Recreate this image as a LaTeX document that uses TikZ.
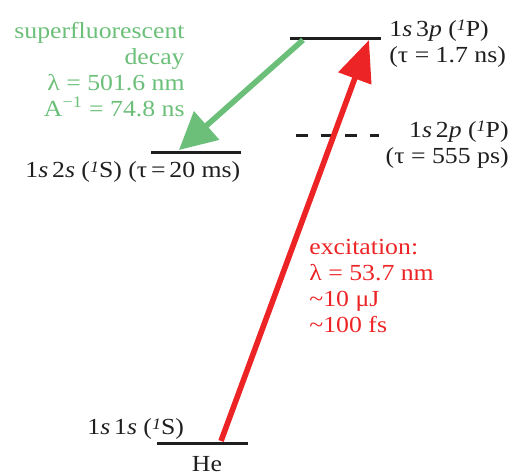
\documentclass[tikz,border=0pt]{standalone}
\usepackage{fontspec}
\setmainfont{Liberation Serif}[FakeStretch=1.12]
\usetikzlibrary{arrows.meta}
\definecolor{Leaf}{rgb}{0.42, 0.75, 0.47}
\definecolor{Signal}{rgb}{0.93, 0.14, 0.15}
\definecolor{Ink}{rgb}{0.12, 0.12, 0.12}
% small italic spin index, top level with the capitals
\newcommand{\upidx}[1]{\raisebox{0.24em}{\fontsize{8}{8}\selectfont\textit{#1}}}

\begin{document}
\begin{tikzpicture}[
  x=0.5pt, y=-0.5pt,
  every node/.style={font=\fontsize{11.5}{13}\selectfont, inner sep=0pt},
  level/.style={Ink, line width=1.5pt},
  pump/.style={Signal, line width=2.8pt, -{Triangle[length=20.5pt, width=17pt]}},
  emission/.style={Leaf, line width=2.8pt, -{Triangle[length=18.5pt, width=18.5pt]}}
]
\useasboundingbox (0,0) rectangle (513,474);

% ============================================================
% Energy levels (pixel grid, y grows downward)
% ============================================================
\coordinate (p3L) at (290,39);  \coordinate (p3R) at (381,39);
\coordinate (p2L) at (296,136); \coordinate (p2R) at (379,136);
\coordinate (s2L) at (151,153); \coordinate (s2R) at (241,153);
\coordinate (s1L) at (157,444); \coordinate (s1R) at (248,444);

\draw[level] (p3L) -- (p3R);
\draw[level, dash pattern=on 6pt off 6.3pt] (p2L) -- (p2R);
\draw[level] (s2L) -- (s2R);
\draw[level] (s1L) -- (s1R);

% Level labels
\node[Ink, anchor=north west, align=left] (p3lab) at (389,20)
  {1\textit{s}\,3\textit{p} (\upidx{1}P)\\(τ = 1.7 ns)};
\node[Ink, anchor=north east, align=right] (p2lab) at (509,121)
  {1\textit{s}\,2\textit{p} (\upidx{1}P)\\(τ = 555 ps)};
\node[Ink, anchor=base west] (s2lab) at (25,178)
  {1\textit{s}\,2\textit{s} (\upidx{1}S) (τ\,=\,20 ms)};
\node[Ink, anchor=base west] (s1lab) at (87,435)
  {1\textit{s}\,1\textit{s} (\upidx{1}S)};
\node[Ink, anchor=base] (he) at (207,472) {He};

% ============================================================
% Transitions
% ============================================================
\coordinate (pumpA) at (221,441);
\coordinate (pumpB) at (369,40);
\coordinate (sfA) at (303,40);
\coordinate (sfB) at (179,150);

\draw[pump] (pumpA) -- (pumpB);
\draw[emission] (sfA) -- (sfB);

% Transition labels
\node[Leaf, anchor=north east, align=right] (sflab) at (185,22)
  {superfluorescent\\decay\\λ = 501.6 nm\\A\textsuperscript{−1} = 74.8 ns};
\node[Signal, anchor=north west, align=left] (pumplab) at (309,238.5)
  {excitation:\\λ = 53.7 nm\\\textasciitilde10 μJ\\\textasciitilde100 fs};

\end{tikzpicture}
\end{document}
